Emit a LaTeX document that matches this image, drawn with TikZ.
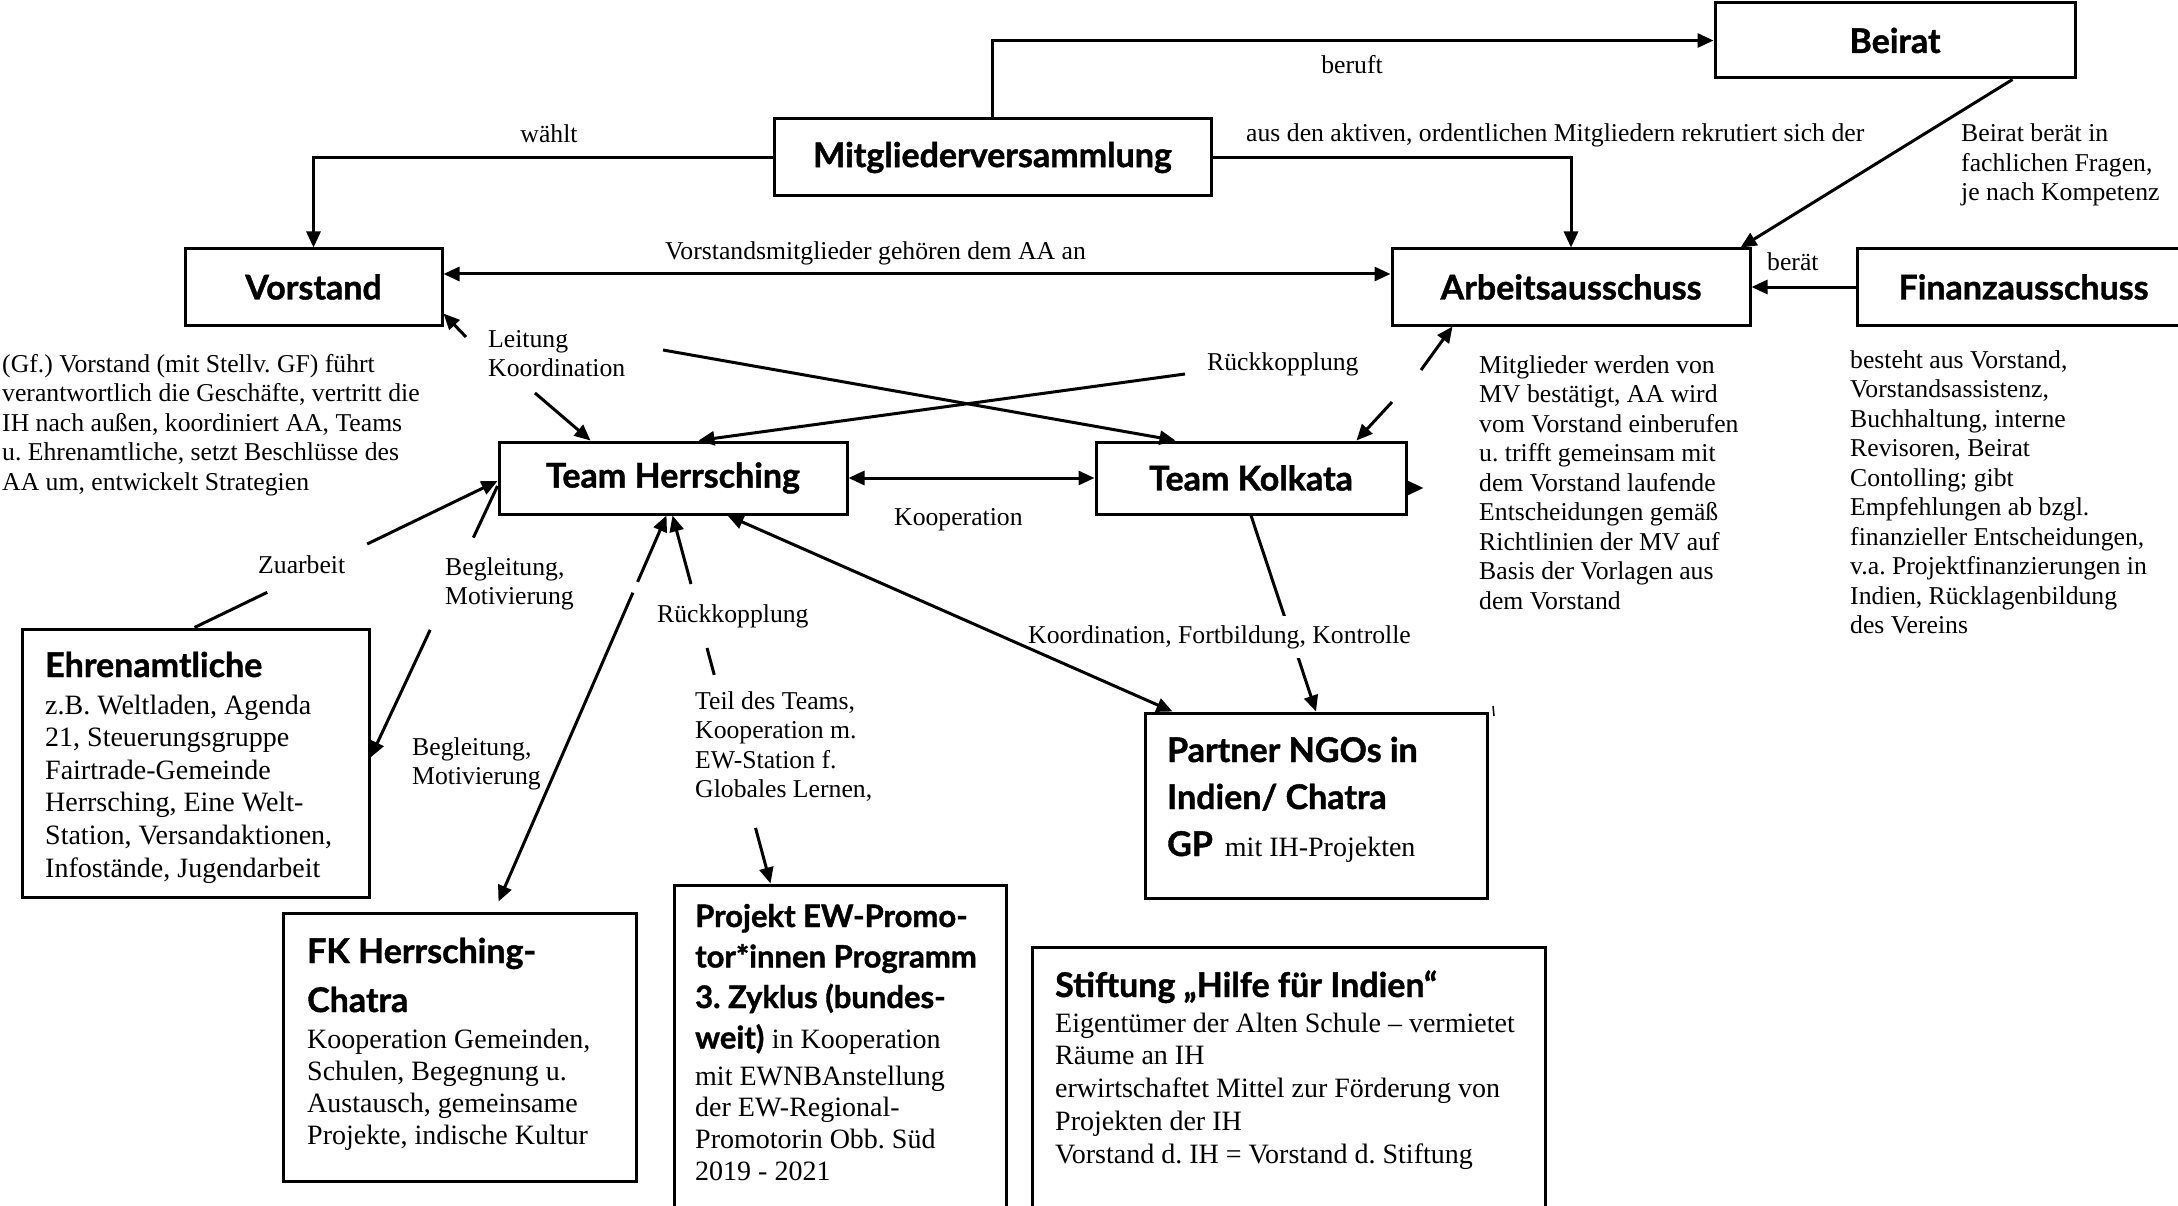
\documentclass[tikz,border=0pt]{standalone}
\usepackage{fontspec}
\setmainfont{Liberation Serif}
\newfontfamily\ttlfont{Lato}[BoldFeatures={FakeBold=1.2}]
\usetikzlibrary{arrows.meta,calc}
\frenchspacing
\newcommand\fsmall{\fontsize{25.7pt}{29.5pt}\selectfont}
\newcommand\fbody{\fontsize{28pt}{32.6pt}\selectfont}
\newcommand\fttl{\ttlfont\bfseries\fontsize{34pt}{40pt}\selectfont}
\newcommand\plines[2]{\parbox[t]{#1}{\raggedright #2}}
\begin{document}
\begin{tikzpicture}[x=1pt,y=-1pt,
  box/.style={draw, line width=3pt, inner sep=0pt, font=\fttl},
  lbl/.style={inner sep=0pt, anchor=base west, font=\fsmall},
  conn/.style={line width=3pt},
  arr/.style={line width=3pt, -{Triangle[length=16pt,width=14pt]}},
  darr/.style={line width=3pt, {Triangle[length=16pt,width=14pt]}-{Triangle[length=16pt,width=14pt]}}]
\useasboundingbox (0,0) rectangle (2178,1206);
\fill[white] (0,0) rectangle (2178,1206);

% ---- boxes
\node[box, minimum width=360pt, minimum height=75pt] (beirat) at (1895,40.5) {Beirat};
\node[box, minimum width=437pt, minimum height=77pt] (mv) at (992.5,157.5) {Mitgliederversammlung};
\node[box, minimum width=257pt, minimum height=76pt] (vor) at (313.5,287) {Vorstand};
\node[box, minimum width=358pt, minimum height=76pt] (aa) at (1571,287) {Arbeitsausschuss};
\node[box, minimum width=333pt, minimum height=76pt] (fin) at (2023.5,287) {Finanzausschuss};
\node[box, minimum width=348pt, minimum height=72pt] (th) at (673,478) {Team Herrsching};
\node[box, minimum width=310pt, minimum height=72pt] (tk) at (1251,478) {Team Kolkata};
\node[box, minimum width=347pt, minimum height=268pt] (ehr) at (195.5,763) {};
\node[box, minimum width=353pt, minimum height=268pt] (fk) at (459.5,1047) {};
\node[box, minimum width=332pt, minimum height=335pt] (proj) at (840,1052.5) {};
\node[box, minimum width=342pt, minimum height=185pt] (png) at (1316,805.5) {};
\node[box, minimum width=513pt, minimum height=273pt] (stift) at (1288.5,1083.5) {};

% ---- box contents
\node[lbl, font=\fttl] (ehrT) at (45,677) {Ehrenamtliche};
\node[lbl, font=\fbody] (ehrB) at (45,714) {\plines{330pt}{z.B. Weltladen, Agenda\\21, Steuerungsgruppe\\Fairtrade-Gemeinde\\Herrsching, Eine Welt-\\Station, Versandaktionen,\\Infostände, Jugendarbeit}};
\node[lbl, font={\fttl\fontsize{34pt}{49pt}\selectfont}] (fkT) at (307,963) {\plines{330pt}{FK Herrsching-\\Chatra}};
\node[lbl, font={\fontsize{28pt}{32.3pt}\selectfont}] (fkB) at (307,1048) {\plines{330pt}{Kooperation Gemeinden,\\Schulen, Begegnung u.\\Austausch, gemeinsame\\Projekte, indische Kultur}};
\node[lbl, font={\ttlfont\bfseries\fontsize{31pt}{40.5pt}\selectfont}] (projT) at (695,927) {\plines{320pt}{Projekt EW-Promo-\\tor*innen Programm\\3. Zyklus (bundes-\\weit) {\normalfont\fbody in Kooperation}}};
\node[lbl, font={\fontsize{28pt}{31.7pt}\selectfont}] (projB) at (695,1085) {\plines{320pt}{mit EWNBAnstellung\\der EW-Regional-\\Promotorin Obb. Süd\\2019 - 2021}};
\node[lbl, font={\fttl\fontsize{34pt}{47pt}\selectfont}] (pngT) at (1167,762) {\plines{330pt}{Partner NGOs in\\Indien/ Chatra\\GP\hspace{12pt}{\normalfont\fbody mit IH-Projekten}}};
\node[lbl, font=\fttl] (stT) at (1055,997) {Stiftung „Hilfe für Indien“};
\node[lbl, font={\fontsize{28pt}{32.8pt}\selectfont}] (stB) at (1055,1032) {\plines{500pt}{Eigentümer der Alten Schule – vermietet\\Räume an IH\\erwirtschaftet Mittel zur Förderung von\\Projekten der IH\\Vorstand d. IH = Vorstand d. Stiftung}};

% ---- free texts
\node[lbl, anchor=base] (waehlt) at (549,143) {wählt};
\node[lbl, anchor=base] (beruft) at (1352,74) {beruft};
\node[lbl] (rekr) at (1246,142) {aus den aktiven, ordentlichen Mitgliedern rekrutiert sich der};
\node[lbl] (bdesc) at (1961,142) {\plines{220pt}{Beirat berät in\\fachlichen Fragen,\\je nach Kompetenz}};
\node[lbl] (vmg) at (665,260) {Vorstandsmitglieder gehören dem AA an};
\node[lbl] (beraet) at (1767,270) {berät};
\node[lbl] (vdesc) at (2,372) {\plines{450pt}{(Gf.) Vorstand (mit Stellv. GF) führt\\verantwortlich die Geschäfte, vertritt die\\IH nach außen, koordiniert AA, Teams\\u. Ehrenamtliche, setzt Beschlüsse des\\AA um, entwickelt Strategien}};
\node[lbl] (aadesc) at (1479,373) {\plines{300pt}{Mitglieder werden von\\MV bestätigt, AA wird\\vom Vorstand einberufen\\u. trifft gemeinsam mit\\dem Vorstand laufende\\Entscheidungen gemäß\\Richtlinien der MV auf\\Basis der Vorlagen aus\\dem Vorstand}};
\node[lbl] (findesc) at (1850,368) {\plines{320pt}{besteht aus Vorstand,\\Vorstandsassistenz,\\Buchhaltung, interne\\Revisoren, Beirat\\Contolling; gibt\\Empfehlungen ab bzgl.\\finanzieller Entscheidungen,\\v.a. Projektfinanzierungen in\\Indien, Rücklagenbildung\\des Vereins}};

% ---- top connectors
\draw[arr] (mv.north) |- (beirat.west);
\draw[arr] (mv.west) -| (vor.north);
\draw[arr] (mv.east) -| (aa.north);
\draw[arr] ([xshift=-64pt]beirat.south east) -- ([xshift=-11pt]aa.north east);
\draw[arr] (fin.west) -- (aa.east);
\draw[darr] ([yshift=13pt]vor.east) -- ([yshift=13pt]aa.west);

% ---- Leitung / Koordination
\node[lbl] (lk) at (488,347) {\plines{200pt}{Leitung\\Koordination}};
\coordinate (lkv) at (466,337);
\coordinate (lkh) at (535,393);
\coordinate (lkk) at (663,350);
\draw[arr] (lkv) -- ([yshift=13pt]vor.south east);
\draw[arr] (lkh) -- ([xshift=93pt]th.north west);
\draw[arr] (lkk) -- ([xshift=81pt]tk.north west);

% ---- Rueckkopplung (top)
\node[lbl] (rk1) at (1207,370) {Rückkopplung};
\coordinate (rk1l) at (1185,374);
\coordinate (rk1r) at (1421,370);
\coordinate (rk1d) at (1392,402);
\draw[arr] (rk1l) -- ([xshift=201pt]th.north west);
\draw[arr] (rk1r) -- ([xshift=62pt]aa.south west);
\draw[arr] (rk1d) -- ([xshift=262pt]tk.north west);

% ---- Kooperation
\draw[darr] (th.east) -- (tk.west);
\node[lbl] (koop) at (894,525) {Kooperation};
\draw[arr] ([yshift=-10pt]tk.east) -- ++(16,0);

% ---- Team Kolkata -> Partner, Team Herrsching <-> Partner
\draw[arr] (tk.south) -- (png.north);
\node[lbl, fill=white, inner xsep=2pt, inner ysep=9pt] (kfk) at (1026,643) {Koordination, Fortbildung, Kontrolle};
\draw[darr] ([xshift=230pt]th.south west) -- ([xshift=29pt]png.north west);
\draw[line width=1.5pt] (1493,706) -- (1494,716);

% ---- Zuarbeit
\coordinate (za) at ([xshift=174pt]ehr.north west);
\coordinate (zb) at ([yshift=-3pt]th.west);
\draw[conn] (za) -- ($(za)!0.24!(zb)$);
\draw[arr] ($(za)!0.57!(zb)$) -- (zb);
\node[lbl] (zu) at (258,573) {Zuarbeit};

% ---- Begleitung 1
\coordinate (ba) at ([yshift=-8pt]th.west);
\coordinate (bb) at ([yshift=-130pt]ehr.north east);
\draw[conn] (ba) -- ($(ba)!0.19!(bb)$);
\draw[arr] ($(ba)!0.53!(bb)$) -- (bb);
\node[lbl] (beg1) at (445,575) {\plines{200pt}{Begleitung,\\Motivierung}};

% ---- Begleitung 2 (FK)
\coordinate (fa) at ([xshift=169pt]th.south west);
\coordinate (fb) at ([xshift=217pt,yshift=10pt]fk.north west);
\draw[arr] ($(fa)!0.172!(fb)$) -- (fa);
\draw[arr] ($(fa)!0.2!(fb)$) -- (fb);
\node[lbl] (beg2) at (412,755) {\plines{200pt}{Begleitung,\\Motivierung}};

% ---- Rueckkopplung (lower)
\node[lbl] (rk2) at (657,622) {Rückkopplung};
\coordinate (r2a) at (691,584);
\draw[arr] (r2a) -- ([xshift=175pt]th.south west);
\coordinate (r2b) at (707,648);
\coordinate (pj) at ([xshift=98pt]proj.north west);
\draw[conn] (r2b) -- ($(r2b)!0.114!(pj)$);
\draw[arr] ($(r2b)!0.764!(pj)$) -- (pj);
\node[lbl] (teil) at (695,709) {\plines{300pt}{Teil des Teams,\\Kooperation m.\\EW-Station f.\\Globales Lernen,}};
\end{tikzpicture}
\end{document}
